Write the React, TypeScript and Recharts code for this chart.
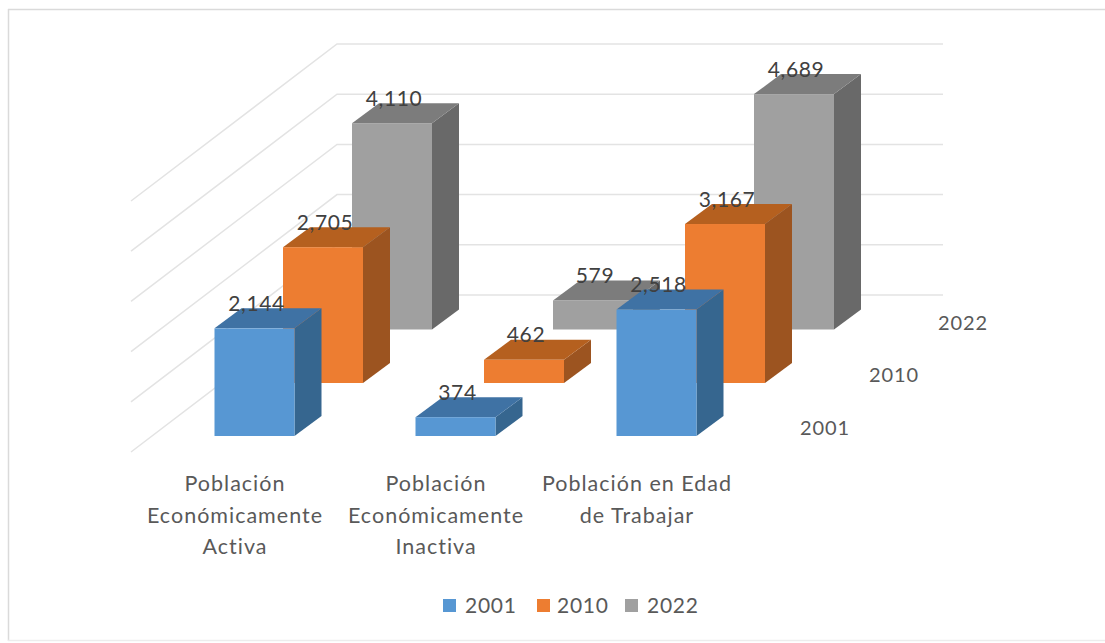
import React from 'react';
import { BarChart, Bar, XAxis, YAxis, CartesianGrid, LabelList, Legend } from 'recharts';

const categories = ['Población Económicamente Activa', 'Población Económicamente Inactiva', 'Población en Edad de Trabajar'];
const categoryLines = [
  ['Población', 'Económicamente', 'Activa'],
  ['Población', 'Económicamente', 'Inactiva'],
  ['Población en Edad', 'de Trabajar'],
];
const values2001 = [2144, 374, 2518];
const values2010 = [2705, 462, 3167];
const values2022 = [4110, 579, 4689];
const gridValues = [0, 1000, 2000, 3000, 4000, 5000];

const table = categories.map((name, i) => ({
  name,
  '2001': values2001[i],
  '2010': values2010[i],
  '2022': values2022[i],
}));

const FONT = 'Lato, sans-serif';
const TEXT = '#595959';
const BAR_W = 80;
const DEPTH_X = 27;
const DEPTH_Y = 20;

const styles: Record<string, { front: string; top: string; side: string; dx: number; dy: number }> = {
  '2001': { front: '#5797D3', top: '#3F72A4', side: '#36668F', dx: 0, dy: -16 },
  '2010': { front: '#ED7D31', top: '#B5601F', side: '#9C5420', dx: 68.5, dy: -69 },
  '2022': { front: '#A0A0A0', top: '#7C7C7C', side: '#696969', dx: 137.5, dy: -122.5 },
};

const box = (key: string) => (p: any) => {
  const s = styles[key];
  const x = p.x + s.dx;
  const y = p.y + s.dy;
  const w = p.width;
  const h = p.height;
  const r = x + w;
  const b = y + h;
  return (
    <g>
      <polygon points={`${r},${y} ${r + DEPTH_X},${y - DEPTH_Y} ${r + DEPTH_X},${b - DEPTH_Y} ${r},${b}`} fill={s.side} />
      <polygon points={`${x},${y} ${x + DEPTH_X},${y - DEPTH_Y} ${r + DEPTH_X},${y - DEPTH_Y} ${r},${y}`} fill={s.top} />
      <rect x={x} y={y} width={w} height={h} fill={s.front} />
    </g>
  );
};

const label = (key: string) => (p: any) => {
  const s = styles[key];
  return (
    <text x={p.x + s.dx + p.width / 2 + 2} y={p.y + s.dy - 26} textAnchor="middle" dominantBaseline="central"
      fontFamily={FONT} fontSize={21} letterSpacing={0.6} fill="#404040">
      {Number(p.value).toLocaleString('en-US')}
    </text>
  );
};

const gridShape = (p: any) => {
  const y = p.y1;
  return (
    <polyline key={y} points={`131,${y} 337,${y - 157} 943,${y - 157}`} fill="none" stroke="#E3E3E3" strokeWidth={1.5} />
  );
};

const CategoryTick = (p: any) => (
  <g>
    {categoryLines[p.index].map((line, i) => (
      <text key={i} x={p.x - 19} y={483 + i * 31.5} textAnchor="middle" dominantBaseline="central"
        fontFamily={FONT} fontSize={21.5} letterSpacing={1} fill={TEXT}>{line}</text>
    ))}
  </g>
);

const legendPos: Record<string, { sq: number; tx: number }> = {
  '2001': { sq: 443, tx: 465 },
  '2010': { sq: 537, tx: 557 },
  '2022': { sq: 625, tx: 647 },
};

const LegendContent = (p: any) => {
  const items = [...(p.payload || [])].sort((a: any, b: any) => String(a.value).localeCompare(String(b.value)));
  return (
    <div style={{ position: 'relative', width: 1105, height: 30 }}>
      {items.map((it: any) => (
        <React.Fragment key={it.value}>
          <span style={{ position: 'absolute', left: legendPos[it.value].sq, top: 9, width: 13, height: 13, background: it.color }} />
          <span style={{ position: 'absolute', left: legendPos[it.value].tx, top: 2, fontFamily: FONT, fontSize: 21, letterSpacing: 0.7, color: TEXT, lineHeight: '26px' }}>{it.value}</span>
        </React.Fragment>
      ))}
    </div>
  );
};

export default function App() {
  return (
    <div style={{ position: 'absolute', left: 0, top: 0, width: 1105, height: 643, background: '#fff' }}>
      <BarChart width={1105} height={643} data={table} barSize={BAR_W} barGap={-BAR_W}
        margin={{ top: 201, right: 348.5, bottom: 0, left: 153.5 }}>
        <line x1={8} y1={9.5} x2={1105} y2={9.5} stroke="#DADADA" strokeWidth={1.5} />
        <line x1={8.5} y1={9} x2={8.5} y2={641} stroke="#DADADA" strokeWidth={1.5} />
        <line x1={8} y1={640.5} x2={1105} y2={640.5} stroke="#EDEDED" strokeWidth={1.5} />
        <CartesianGrid vertical={false} horizontalValues={gridValues} horizontal={gridShape} />
        <XAxis dataKey="name" axisLine={false} tickLine={false} interval={0} height={161} tick={<CategoryTick />} />
        <YAxis hide domain={[0, 5000]} />
        {['2022', '2010', '2001'].map((key) => (
          <Bar key={key} dataKey={key} fill={styles[key].front} isAnimationActive={false} shape={box(key)}>
            <LabelList dataKey={key} content={label(key)} />
          </Bar>
        ))}
        <text x={963} y={322} textAnchor="middle" dominantBaseline="central" fontFamily={FONT} fontSize={20} letterSpacing={0.9} fill={TEXT}>2022</text>
        <text x={894} y={374} textAnchor="middle" dominantBaseline="central" fontFamily={FONT} fontSize={20} letterSpacing={0.9} fill={TEXT}>2010</text>
        <text x={825} y={427} textAnchor="middle" dominantBaseline="central" fontFamily={FONT} fontSize={20} letterSpacing={0.9} fill={TEXT}>2001</text>
        <Legend content={<LegendContent />} wrapperStyle={{ left: 0, top: 590, bottom: 'auto', width: 1105 }} />
      </BarChart>
    </div>
  );
}
